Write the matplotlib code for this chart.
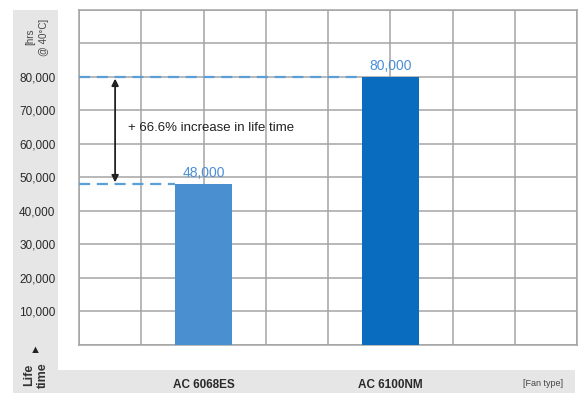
import matplotlib
matplotlib.use("Agg")
import matplotlib.pyplot as plt
from matplotlib.patches import Rectangle

# fan models and rated life time in hours at 40 degC
fans = ["AC 6068ES", "AC 6100NM"]
life_hours = [48000, 80000]
fan_pos = [2, 5]
bar_colors = ["#4a8fd0", "#0a6cbf"]
ytick_vals = list(range(0, 100001, 10000))
note = "+ 66.6% increase in life time"

plt.rcParams["font.family"] = ["Liberation Sans Narrow", "Liberation Sans", "DejaVu Sans"]

fig = plt.figure(figsize=(5.79, 3.96), dpi=100)
W, H = 579, 396

# grey L-shaped label band (left strip + bottom strip)
grey = "#e6e6e6"
fig.patches.append(Rectangle((13 / W, 3 / H), 45 / W, 383 / H, transform=fig.transFigure,
                             facecolor=grey, edgecolor="none", zorder=-5))
fig.patches.append(Rectangle((13 / W, 3 / H), 562 / W, 23 / H, transform=fig.transFigure,
                             facecolor=grey, edgecolor="none", zorder=-5))

ax = fig.add_axes([79 / W, (H - 344.7) / H, 498 / W, 334.7 / H])
ax.set_facecolor("none")
ax.set_xlim(0, 8)
ax.set_ylim(0, 100000)

ax.bar(fan_pos, life_hours, width=0.92, color=bar_colors, zorder=3)

# grid
ax.xaxis.remove_overlapping_locs = False
ax.set_xticks(range(0, 9), minor=True)
ax.grid(True, which="minor", axis="x", color="#a4a4a4", lw=1.1)
ax.set_yticks(ytick_vals)
ax.grid(True, which="major", axis="y", color="#a4a4a4", lw=1.1)
for s in ax.spines.values():
    s.set_color("#a4a4a4")
    s.set_linewidth(1.1)
ax.tick_params(which="both", length=0)

ylabels = [f"{v:,}" if 0 < v < 90000 else "" for v in ytick_vals]
ax.set_yticklabels(ylabels, fontsize=8.5, color="#2a2a2a")
ax.tick_params(axis="y", pad=17)
ax.set_xticks(fan_pos)
ax.set_xticklabels(fans, fontsize=8.5, fontweight="bold", color="#2a2a2a")
ax.tick_params(axis="x", pad=25)

# dashed reference lines from the axis to each bar, and value labels
for x, v in zip(fan_pos, life_hours):
    ax.plot([0, x - 0.46], [v, v], ls=(0, (5, 3)), color="#5b9fd8", lw=1.6, zorder=4)
    ax.text(x, v + 1200, f"{v:,}", ha="center", va="bottom", fontsize=10,
            color="#4a8fd8", zorder=5)

# double arrow between the two levels
ax.annotate("", xy=(0.58, life_hours[1] - 500), xytext=(0.58, life_hours[0] + 500),
            arrowprops=dict(arrowstyle="<|-|>", color="#222222", lw=1.3,
                            mutation_scale=10, shrinkA=0, shrinkB=0), zorder=5)
ax.text(0.78, 64800, note, ha="left", va="center", fontsize=9.5, color="#222222", zorder=5)

# axis titles in the grey strip
fig.text(37 / W, (H - 37) / H, "[hrs\n@ 40°C]", rotation=90, ha="center", va="center",
         fontsize=7, color="#444444", linespacing=1.5)
fig.text(35 / W, (H - 350) / H, "\u25B2", ha="center", va="center", fontsize=8, color="#222222")
fig.text(36 / W, (H - 375) / H, "Life\ntime", rotation=90, ha="center", va="center",
         fontsize=9, fontweight="bold", color="#333333", linespacing=1.3)
fig.text(543 / W, (H - 383) / H, "[Fan type]", ha="center", va="center",
         fontsize=6.5, color="#444444")

fig.savefig("out.png", dpi=100)
